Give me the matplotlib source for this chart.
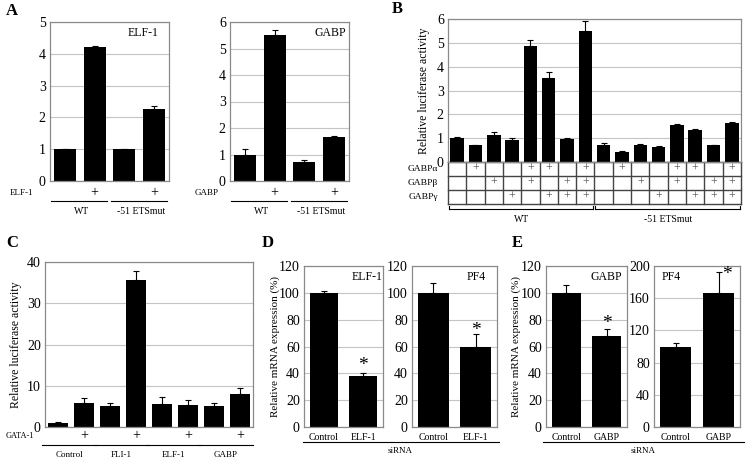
import matplotlib
matplotlib.use('Agg')
import matplotlib.pyplot as plt
import numpy as np

plt.rcParams['font.family'] = ['Liberation Serif', 'DejaVu Serif']

# ---------------- data ----------------
a_elf_vals = [1.0, 4.2, 1.0, 2.25]
a_elf_err = [0.02, 0.05, 0.02, 0.12]
a_gabp_vals = [1.0, 5.5, 0.72, 1.65]
a_gabp_err = [0.2, 0.2, 0.06, 0.06]
a_plus = ['', '+', '', '+']
a_groups = ['WT', '-51 ETSmut']

b_vals = [1.0, 0.7, 1.12, 0.93, 4.85, 3.52, 0.97, 5.5,
          0.73, 0.43, 0.7, 0.62, 1.57, 1.33, 0.7, 1.65]
b_err = [0.04, 0.03, 0.15, 0.07, 0.25, 0.25, 0.05, 0.42,
         0.05, 0.03, 0.04, 0.04, 0.04, 0.06, 0.02, 0.03]
b_alpha = [0, 1, 0, 0, 1, 1, 0, 1, 0, 1, 0, 0, 1, 1, 0, 1]
b_beta = [0, 0, 1, 0, 1, 0, 1, 1, 0, 0, 1, 0, 1, 0, 1, 1]
b_gamma = [0, 0, 0, 1, 0, 1, 1, 1, 0, 0, 0, 1, 0, 1, 1, 1]
b_rows = ['GABPα', 'GABPβ', 'GABPγ']
b_groups = ['WT', '-51 ETSmut']

c_vals = [1.0, 5.8, 5.0, 35.7, 5.5, 5.4, 5.2, 7.9]
c_err = [0.2, 1.3, 0.8, 2.2, 1.7, 1.1, 0.7, 1.5]
c_plus = ['', '+', '', '+', '', '+', '', '+']
c_groups = ['Control', 'FLI-1', 'ELF-1', 'GABP']

d_cats = ['Control', 'ELF-1']
d_elf_vals = [100, 38]
d_elf_err = [1.2, 2.5]
d_pf4_vals = [100, 60]
d_pf4_err = [7, 9]

e_cats = ['Control', 'GABP']
e_gabp_vals = [100, 68]
e_gabp_err = [6, 5]
e_pf4_vals = [100, 167]
e_pf4_err = [4, 25]

# ---------------- helpers ----------------
W, H = 746, 458
fig = plt.figure(figsize=(W / 100, H / 100), dpi=100)


def add_ax(l, t, r, b):
    return fig.add_axes([l / W, 1 - b / H, (r - l) / W, (b - t) / H])


def style(ax, ylim, yticks, n):
    ax.set_ylim(*ylim)
    ax.set_yticks(yticks)
    ax.set_xlim(-0.5, n - 0.5)
    ax.set_xticks([])
    ax.yaxis.grid(True, color='#c4c4c4', lw=0.8)
    ax.set_axisbelow(True)
    for s in ax.spines.values():
        s.set_color('#8a8a8a')
        s.set_linewidth(0.9)
    ax.tick_params(axis='y', length=0, labelsize=10, pad=3)


def bars(ax, vals, errs, width=0.74):
    x = np.arange(len(vals))
    ax.bar(x, vals, width=width, color='black',
           yerr=[np.zeros(len(vals)), errs],
           error_kw=dict(ecolor='black', elinewidth=0.8, capsize=2.5, capthick=0.8))
    return x


def txt_below(ax, x, dy, s, size=8, **kw):
    ax.annotate(s, xy=(x, 0), xycoords=('data', 'axes fraction'),
                xytext=(0, -dy * 0.72), textcoords='offset points',
                ha=kw.pop('ha', 'center'), va='center', fontsize=size,
                annotation_clip=False, **kw)


def row_label(ax, dx, dy, s, size=7):
    ax.annotate(s, xy=(0, 0), xycoords='axes fraction',
                xytext=(-dx * 0.72, -dy * 0.72), textcoords='offset points',
                ha='right', va='center', fontsize=size, annotation_clip=False)


def hline_below(ax, x0, x1, dy, color='black', lw=0.8):
    h = ax.get_position().height * H
    y = -dy / h
    ax.plot([x0, x1], [y, y], transform=ax.get_xaxis_transform(),
            clip_on=False, color=color, lw=lw)


def vline_below(ax, x, dy0, dy1, color='black', lw=0.8):
    h = ax.get_position().height * H
    ax.plot([x, x], [-dy0 / h, -dy1 / h], transform=ax.get_xaxis_transform(),
            clip_on=False, color=color, lw=lw)


def panel_letter(px, py, s):
    fig.text(px / W, 1 - py / H, s, fontsize=12, fontweight='bold',
             ha='left', va='center')


# ---------------- Panel A ----------------
for (l, r, vals, errs, name, lab_dx, tx) in [
        (50, 169, a_elf_vals, a_elf_err, 'ELF-1', 17, 0.78),
        (230, 349, a_gabp_vals, a_gabp_err, 'GABP', 11, 0.84)]:
    ax = add_ax(l, 22, r, 181)
    ymax = 5 if name == 'ELF-1' else 6
    style(ax, (0, ymax), range(0, ymax + 1), 4)
    x = bars(ax, vals, errs)
    ax.text(tx, 0.93, name, transform=ax.transAxes, ha='center', va='center', fontsize=8.5)
    row_label(ax, lab_dx, 12, name, size=6.5)
    for xi, p in zip(x, a_plus):
        if p:
            txt_below(ax, xi, 12, p, size=10)
    for g, gname in enumerate(a_groups):
        hline_below(ax, 2 * g - 0.45, 2 * g + 1.42, 20)
        txt_below(ax, 2 * g + 0.55, 31, gname, size=7)
panel_letter(6, 11, 'A')

# ---------------- Panel B ----------------
axb = add_ax(448, 19, 741, 162)
style(axb, (0, 6), range(0, 7), 16)
xb = bars(axb, b_vals, b_err)
axb.set_ylabel('Relative luciferase activity', fontsize=8.5)
axb.yaxis.set_label_coords(-0.06, 0.5)
row_dy = [0, 14, 28, 42]
for d in row_dy:
    hline_below(axb, -0.5, 15.5, d, color='#444444', lw=1.0)
for i in range(17):
    vline_below(axb, i - 0.5, 0, 42, color='#444444', lw=1.0)
for r, (rname, flags) in enumerate(zip(b_rows, [b_alpha, b_beta, b_gamma])):
    cy = (row_dy[r] + row_dy[r + 1]) / 2
    row_label(axb, 10, cy, rname, size=6.8)
    for xi, f in zip(xb, flags):
        if f:
            txt_below(axb, xi, cy, '+', size=8.5, color='#555555')
for g, gname in enumerate(b_groups):
    x0, x1 = 8 * g - 0.45, 8 * g + 7.42
    hline_below(axb, x0, x1, 47)
    vline_below(axb, x0, 44, 47)
    vline_below(axb, x1, 44, 47)
    txt_below(axb, 8 * g + 3.5, 57, gname, size=7)
panel_letter(392, 9, 'B')

# ---------------- Panel C ----------------
axc = add_ax(45, 262, 253, 427)
style(axc, (0, 40), range(0, 41, 10), 8)
xc = bars(axc, c_vals, c_err)
axc.set_ylabel('Relative luciferase activity', fontsize=8.5)
axc.yaxis.set_label_coords(-0.11, 0.5)
row_label(axc, 11, 9, 'GATA-1', size=6)
for xi, p in zip(xc, c_plus):
    if p:
        txt_below(axc, xi, 9, p, size=10)
for g, gname in enumerate(c_groups):
    hline_below(axc, 2 * g - 0.6, 2 * g + 1.5, 18)
    txt_below(axc, 2 * g + 0.45, 28, gname, size=6.5)
panel_letter(6, 243, 'C')


# ---------------- Panels D & E ----------------
def mrna_panel(l, r, vals, errs, cats, ylim, yticks, title, tx, star_y, star_dx=0.0,
               ylabel=None, lab_x=None):
    ax = add_ax(l, 266, r, 427)
    style(ax, ylim, yticks, 2)
    x = bars(ax, vals, errs, width=0.72)
    ax.text(tx, 0.93, title, transform=ax.transAxes, ha='center', va='center', fontsize=8.5)
    for xi, c in zip(x, cats):
        txt_below(ax, xi, 10, c, size=7)
    ax.text(x[1] + star_dx, star_y, '*', ha='center', va='center', fontsize=14)
    if ylabel:
        ax.set_ylabel(ylabel, fontsize=8)
        ax.yaxis.set_label_coords(lab_x, 0.5)
    return ax


axd1 = mrna_panel(304, 383, d_elf_vals, d_elf_err, d_cats, (0, 120), range(0, 121, 20),
                  'ELF-1', 0.8, 46, ylabel='Relative mRNA expression (%)', lab_x=-0.31)
axd2 = mrna_panel(412, 497, d_pf4_vals, d_pf4_err, d_cats, (0, 120), range(0, 121, 20),
                  'PF4', 0.76, 72)
fig.add_artist(plt.Line2D([303 / W, 499 / W], [1 - 442 / H, 1 - 442 / H], color='black', lw=0.8))
fig.text(400 / W, 1 - 451 / H, 'siRNA', ha='center', va='center', fontsize=6.5)
panel_letter(262, 243, 'D')

axe1 = mrna_panel(546, 627, e_gabp_vals, e_gabp_err, e_cats, (0, 120), range(0, 121, 20),
                  'GABP', 0.74, 77, ylabel='Relative mRNA expression (%)', lab_x=-0.31)
axe2 = mrna_panel(654, 740, e_pf4_vals, e_pf4_err, e_cats, (0, 200), range(0, 201, 40),
                  'PF4', 0.2, 190, star_dx=0.2)
fig.add_artist(plt.Line2D([543 / W, 744 / W], [1 - 442 / H, 1 - 442 / H], color='black', lw=0.8))
fig.text(643 / W, 1 - 451 / H, 'siRNA', ha='center', va='center', fontsize=6.5)
panel_letter(512, 243, 'E')

fig.savefig('out.png', dpi=100)
